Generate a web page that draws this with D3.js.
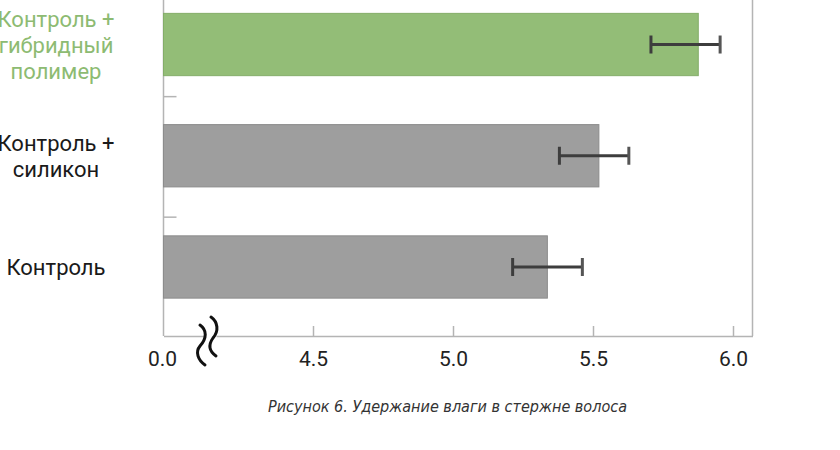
<!DOCTYPE html>
<html><head><meta charset="utf-8">
<script src="https://cdn.jsdelivr.net/npm/d3@7"></script>
<style>body{margin:0;background:#fff}</style>
</head><body>
<svg id="c" width="840" height="450"></svg>
<script>
const categories = ["Контроль", "Контроль + силикон", "Контроль + гибридный полимер"];
const labelLines = [["Контроль"], ["Контроль +", "силикон"], ["Контроль +", "гибридный", "полимер"]];
const values = [5.337, 5.521, 5.876];
const errLow = [5.213, 5.380, 5.707];
const errHigh = [5.462, 5.628, 5.954];
const tickValues = [4.5, 5.0, 5.5, 6.0];
const tickLabels = ["4.5", "5.0", "5.5", "6.0"];
const breakLabel = "0.0";
const caption = "Рисунок 6. Удержание влаги в стержне волоса";

const svg = d3.select("#c");
const left = 163.5, right = 752.5, bottom = 336;
const x = d3.scaleLinear().domain([4.5 - 149.5/280, 6.0 + 19.5/280]).range([left, right]);
const yBar = d3.scaleBand().domain(categories).range([322.6, -11.1]).paddingInner(0.44).paddingOuter(0.22);
const ySep = d3.scaleBand().domain(categories).range([337.7, -23.9]);

const axisCol = "#b4b4b4";
svg.append("line").attr("x1", left).attr("x2", left).attr("y1", 0).attr("y2", bottom).attr("stroke", axisCol).attr("stroke-width", 1.5);
svg.append("line").attr("x1", right).attr("x2", right).attr("y1", 0).attr("y2", bottom).attr("stroke", axisCol).attr("stroke-width", 1.5);

svg.selectAll("line.sep").data(categories.slice(0, -1)).join("line").attr("class", "sep")
  .attr("x1", left).attr("x2", left + 13)
  .attr("y1", d => ySep(d)).attr("y2", d => ySep(d))
  .attr("stroke", axisCol).attr("stroke-width", 1.5);

const gx = svg.append("g").attr("transform", `translate(0,${bottom})`)
  .call(d3.axisBottom(x).tickValues(tickValues).tickFormat((d, i) => tickLabels[i]).tickSizeInner(-10).tickSizeOuter(0).tickPadding(0));
gx.select(".domain").attr("stroke", axisCol).attr("stroke-width", 1.5);
gx.selectAll(".tick line").attr("stroke", axisCol).attr("stroke-width", 1.5);
gx.selectAll(".tick text").attr("font-family", "Roboto").attr("font-size", 21).attr("fill", "#222")
  .attr("y", 30).attr("dy", null);
svg.append("text").attr("x", x(x.domain()[0]) - 1).attr("y", bottom + 30)
  .attr("text-anchor", "middle").attr("font-family", "Roboto").attr("font-size", 21).attr("fill", "#222").text(breakLabel);

const colors = ["#9e9e9e", "#9e9e9e", "#93bd77"];
const strokes = ["#8c8c8c", "#8c8c8c", "#84ad69"];
svg.selectAll("rect.bar").data(categories).join("rect").attr("class", "bar")
  .attr("x", x.range()[0]).attr("y", d => yBar(d))
  .attr("width", (d, i) => x(values[i]) - x.range()[0]).attr("height", yBar.bandwidth())
  .attr("fill", (d, i) => colors[i]).attr("stroke", (d, i) => strokes[i]).attr("stroke-width", 1);

const eb = svg.selectAll("g.eb").data(categories).join("g").attr("class", "eb");
const cyOf = d => yBar(d) + yBar.bandwidth()/2;
eb.append("line").attr("x1", (d, i) => x(errLow[i])).attr("x2", (d, i) => x(errHigh[i]))
  .attr("y1", cyOf).attr("y2", cyOf).attr("stroke", "#3d3d3d").attr("stroke-width", 3);
eb.append("line").attr("x1", (d, i) => x(errLow[i])).attr("x2", (d, i) => x(errLow[i]))
  .attr("y1", d => cyOf(d) - 9).attr("y2", d => cyOf(d) + 9).attr("stroke", "#3d3d3d").attr("stroke-width", 3);
eb.append("line").attr("x1", (d, i) => x(errHigh[i])).attr("x2", (d, i) => x(errHigh[i]))
  .attr("y1", d => cyOf(d) - 9).attr("y2", d => cyOf(d) + 9).attr("stroke", "#555").attr("stroke-width", 3);

const labelCols = ["#1a1a1a", "#1a1a1a", "#8dbb72"];
const lh = 26;
svg.selectAll("text.cat").data(categories).join("text").attr("class", "cat")
  .attr("text-anchor", "middle").attr("font-family", "Roboto").attr("font-size", 22)
  .attr("fill", (d, i) => labelCols[i])
  .each(function(d, i) {
    const lines = labelLines[i];
    const y0 = cyOf(d) + 8 - (lines.length - 1) * lh / 2;
    d3.select(this).selectAll("tspan").data(lines).join("tspan")
      .attr("x", 56).attr("y", (l, j) => y0 + j * lh).text(l => l);
  });

const brk = svg.append("g");
brk.append("path").attr("d", "M203,324 L214,316 L219,356 L206,364 Z").attr("fill", "#fff");
brk.append("path").attr("d", "M200,325 C207,330 207,338 200,346 C195,352 198,360 205,365").attr("fill", "none").attr("stroke", "#111").attr("stroke-width", 3).attr("stroke-linecap", "round");
brk.append("path").attr("d", "M211,317 C218,322 219,331 213,338 C208,345 209,351 216,356").attr("fill", "none").attr("stroke", "#111").attr("stroke-width", 3).attr("stroke-linecap", "round");

svg.append("text").attr("x", 447.5).attr("y", 412).attr("text-anchor", "middle")
  .attr("font-family", "DejaVu Sans Condensed, DejaVu Sans").attr("font-style", "italic").attr("font-size", 16)
  .attr("fill", "#333").attr("textLength", 359).attr("lengthAdjust", "spacingAndGlyphs").text(caption);
</script>
</body></html>
